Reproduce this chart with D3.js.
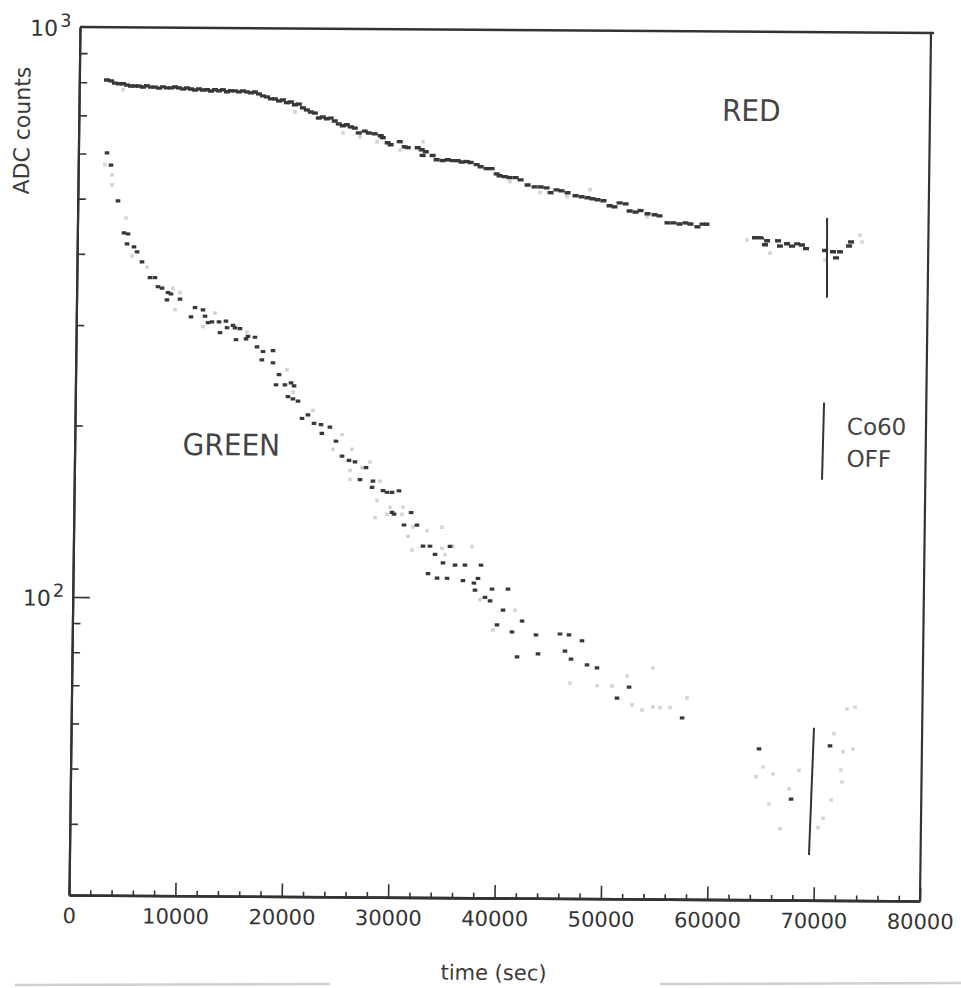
<!DOCTYPE html>
<html>
<head>
<meta charset="utf-8">
<script src="https://cdn.jsdelivr.net/npm/d3@7"></script>
<style>
  body { margin: 0; background: #ffffff; }
  svg { display: block; }
</style>
</head>
<body>
<svg id="chart" width="961" height="988"></svg>
<script>
// ---------------- data (time in s, ADC counts) ----------------
const redPoints = [
  [2600,808],[3000,805],[3350,798],[3730,796],[4110,796],[4490,792],[4860,789],[5240,789],[5620,789],[5990,786],
  [6370,790],[6750,786],[7120,786],[7500,783],[7870,787],[8250,784],[8630,784],[9000,787],[9380,784],[9760,781],
  [10130,784],[10510,781],[10880,778],[11260,781],[11640,778],[12010,779],[12390,775],[12760,779],[13140,776],[13520,779],
  [13890,773],[14270,776],[14640,776],[15020,773],[15400,776],[15770,773],[16150,770],[16520,773],[16900,767],[17280,761],
  [17660,758],[18030,752],[18410,752],[18790,746],[19160,749],[19540,741],[19910,743],[20290,735],[20670,737],[21050,726],
  [21420,720],[21800,714],[22180,711],[22560,697],[22930,700],[23310,695],[23680,697],[24060,689],[24440,681],[24820,676],
  [25190,679],[25570,673],[25950,670],[26330,657],[26890,662],[27270,657],[27830,655],[28400,650],[28590,645],[29060,632],
  [29340,627],[30190,635],[30670,622],[30950,620],[31890,620],[32270,615],[32650,610],[32360,601],[33300,601],[33680,591],
  [34250,589],[34720,591],[35190,589],[35660,589],[36040,586],[36510,587],[36880,585],[37450,580],[37830,575],[38390,571],
  [38860,571],[39340,559],[39620,555],[40090,553],[40560,551],[41130,551],[41600,546],[42260,535],[42920,531],[43490,531],
  [44050,529],[44430,519],[44990,525],[45460,523],[46030,519],[46780,513],[47350,511],[47910,509],[48380,507],[48860,505],
  [49420,503],[49990,493],[50460,491],[50930,499],[51500,497],[51880,483],[52440,481],[52910,484],[53570,478],[54230,476],
  [54700,474],[55460,461],[56020,461],[56590,459],[57150,461],[57620,459],[58280,454],[58750,459],[59120,459],
  [63700,435],[64270,435],[64840,430],[64650,423],[65870,430],[66060,421],[66720,425],[67190,421],[67660,425],[68130,423],
  [68510,417],[70300,414],[71050,412],[71710,412],[71340,402],[72550,422],[72730,429]
];
const redFaintPoints = [
  [4120,777],[20310,714],[24850,657],[26450,647],[28060,634],[30230,614],[32380,635],[40600,542],[43440,519],
  [45980,511],[48140,526],[53530,472],[62950,431],[73570,441],[73760,429],[65130,409],[70310,398]
];
const greenPoints = [
  [2690,602],[3080,573],[3780,496],[4380,436],[4760,434],[4680,417],[5340,412],[5630,404],[6110,388],[6880,364],
  [7350,364],[7640,351],[8020,349],[8590,343],[8870,341],[8500,333],[9730,334],[10780,311],[11150,323],[11900,320],
  [12100,312],[12390,304],[12760,305],[13420,305],[13530,292],[14070,306],[14180,298],[14740,301],[14930,298],[15400,297],
  [15040,284],[15980,285],[16160,288],[16820,287],[17020,276],[17500,262],[17590,271],[18530,272],[18540,259],[19120,247],
  [18850,237],[19690,237],[20260,239],[20550,236],[19990,226],[20460,224],[20940,222],[21890,210],[21340,207],[22470,203],
  [23130,202],[23970,200],[23220,195],[24560,189],[25140,178],[25800,175],[26370,174],[27410,170],[26860,162],[28080,161],
  [28000,157],[29040,155],[29410,154],[29880,154],[30540,155],[29910,142],[30100,141],[31700,142],[31050,135],[32270,135],
  [32860,124],[33520,124],[34000,120],[35400,124],[34760,116],[35890,115],[34220,109],[33370,111],[35160,109],[36660,108],
  [37690,107],[36830,115],[38340,115],[38070,109],[37800,104],[39400,104.5],[40900,104.5],[38750,101],[39230,99.6],[40460,96],
  [42260,91.9],[39910,90.4],[41330,87.9],[43590,86.9],[45840,87.3],[46690,87],[47920,85],[41830,79.5],[43800,80.5],[46330,81.5],
  [46910,78.9],[48420,77.1],[49360,76.2],[52400,70.6],[51280,67.5],[57420,62.4],[64690,55.2],[67760,45.1],[71360,56]
];
const greenFaintPoints = [
  [2500,574],[3190,551],[3200,529],[4550,463],[5160,397],[6580,380],[9050,349],[9720,343],[9270,320],[13030,316],
  [11920,299],[16060,293],[19870,252],[20460,230],[22360,214],[25120,194],[24290,183],[26070,183],[27780,174],[25910,168],
  [25920,162],[27030,170],[28740,161],[28480,149],[29710,145],[30940,145],[28320,139],[29440,141],[30850,141],[31900,134],
  [31440,129],[33220,132],[34630,134],[31830,122],[34650,123],[34940,120],[37470,124],[35680,124],[38280,100],[39540,88.6],
  [41590,96],[46840,71.6],[49390,70.9],[50800,70.9],[52190,73.8],[54620,76.3],[52700,65.7],[53650,64.4],[54670,65.2],[55340,65],
  [56270,65],[57860,67.7],[65090,51.3],[64440,49.3],[66040,49.9],[65700,44.2],[66760,40],[68470,50.7],[67560,47],[70330,40.2],
  [70790,41.8],[71520,45],[72420,50.8],[72530,48.4],[71720,58.8],[72590,54.7],[73520,55.3],[72910,65],[73660,65.5]
];
// vertical marker lines [t1, counts1, t2, counts2]
const markerLines = [
  [70450, 472, 70540, 342],   // on RED
  [70390, 224, 70290, 164],   // Co60 OFF legend
  [69830, 60.2, 69510, 36]    // on GREEN
];
// annotation texts [t, counts, text]
const annotations = [
  [60450, 697, "RED"],
  [10150, 178, "GREEN"]
];
const coLabel = [[72570, 197, "Co60"], [72570, 173, "OFF"]];

const xDomain = [0, 80000];
const yDomain = [30, 1000];
const xMajorTicks = [0, 10000, 20000, 30000, 40000, 50000, 60000, 70000, 80000];
const xMinorTicks = [2000,4000,6000,8000,12000,14000,16000,18000,22000,24000,26000,28000,
  32000,34000,36000,38000,42000,44000,46000,48000,52000,54000,56000,58000,62000,64000,66000,68000,
  72000,74000,76000,78000];
const yMajorTicks = [100];
const yMinorTicks = [40,50,60,70,80,90,200,300,400,500,600,700,800,900];
const yDecadeLabels = [[100, "2"], [1000, "3"]];

// ---------------- drawing ----------------
const W = 851, H = 868;
const ink = "#333333";
const font = "'DejaVu Sans', 'Liberation Sans', sans-serif";
const svg = d3.select("#chart");
svg.append("rect").attr("width", 961).attr("height", 988).attr("fill", "#fff");

// scan artefact at bottom edge
svg.append("path").attr("d", "M15,985L330,984M660,984L961,983")
  .attr("stroke", "#cfcfcf").attr("stroke-width", 2.5).attr("fill", "none");

// the scanned page is slightly skewed
const g = svg.append("g").attr("transform", "matrix(1,0.007,-0.0127,1,80,27)");

const x = d3.scaleLinear().domain(xDomain).range([0, W]);
const y = d3.scaleLog().domain(yDomain).range([H, 0]);

// faint points
g.append("g").selectAll("rect").data(redFaintPoints.concat(greenFaintPoints)).join("rect")
  .attr("x", d => x(d[0]) - 1.8).attr("y", d => y(d[1]) - 1.8)
  .attr("width", 3.6).attr("height", 3.6).attr("fill", "#d4d4d4");

// red series
g.append("g").selectAll("rect").data(redPoints).join("rect")
  .attr("x", d => x(d[0]) - 3).attr("y", d => y(d[1]) - 1.7)
  .attr("width", 6).attr("height", 3.4).attr("fill", "#383838");

// green series
g.append("g").selectAll("rect").data(greenPoints).join("rect")
  .attr("x", d => x(d[0]) - 2.3).attr("y", d => y(d[1]) - 1.6)
  .attr("width", 4.6).attr("height", 3.2).attr("fill", "#383838");

// marker lines
g.append("g").selectAll("line").data(markerLines).join("line")
  .attr("x1", d => x(d[0])).attr("y1", d => y(d[1]))
  .attr("x2", d => x(d[2])).attr("y2", d => y(d[3]))
  .attr("stroke", ink).attr("stroke-width", 2);

// axes
function styleAxis(sel, w) {
  sel.select(".domain").attr("stroke", ink).attr("stroke-width", w);
  sel.selectAll(".tick line").attr("stroke", ink).attr("stroke-width", 1.6);
  sel.selectAll(".tick text").attr("fill", ink).attr("font-family", font).attr("font-size", 21);
}
const xAxisMajor = g.append("g").attr("transform", `translate(0,${H})`)
  .call(d3.axisBottom(x).tickValues(xMajorTicks).tickSize(-13).tickSizeOuter(0)
    .tickFormat(d3.format("d")));
styleAxis(xAxisMajor, 2.6);
xAxisMajor.selectAll(".tick text").attr("y", 28).attr("dy", 0);

const xAxisMinor = g.append("g").attr("transform", `translate(0,${H})`)
  .call(d3.axisBottom(x).tickValues(xMinorTicks).tickSize(-5).tickSizeOuter(0).tickFormat(""));
styleAxis(xAxisMinor, 2.6);

const yAxisMajor = g.append("g")
  .call(d3.axisLeft(y).tickValues(yMajorTicks).tickSize(-17).tickSizeOuter(0).tickFormat(""));
styleAxis(yAxisMajor, 2.2);
const yAxisMinor = g.append("g")
  .call(d3.axisLeft(y).tickValues(yMinorTicks).tickSize(-8).tickSizeOuter(0).tickFormat(""));
styleAxis(yAxisMinor, 2.2);

// top and right frame
g.append("line").attr("x1", x(xDomain[0])).attr("x2", x(xDomain[1]) + 3)
  .attr("y1", y(yDomain[1])).attr("y2", y(yDomain[1]))
  .attr("stroke", ink).attr("stroke-width", 2.6);
g.append("line").attr("x1", x(xDomain[1])).attr("x2", x(xDomain[1]))
  .attr("y1", y(yDomain[1])).attr("y2", y(yDomain[0]))
  .attr("stroke", ink).attr("stroke-width", 2.2);

// decade labels 10^2, 10^3
yDecadeLabels.forEach(([v, e]) => {
  const t = g.append("text").attr("x", -50).attr("y", y(v) + 9)
    .attr("font-family", font).attr("font-size", 22).attr("fill", ink);
  t.append("tspan").text("10");
  t.append("tspan").attr("dx", 2).attr("dy", -9).attr("font-size", 18).text(e);
});

// axis titles
g.append("text").attr("transform", "translate(-49,104) rotate(-90)")
  .attr("text-anchor", "middle").attr("font-family", font).attr("font-size", 22)
  .attr("fill", "#3a3a3a").text("ADC counts");
g.append("text").attr("x", x(40000)).attr("y", H + 82)
  .attr("text-anchor", "middle").attr("font-family", font).attr("font-size", 21)
  .attr("fill", "#3a3a3a").text("time (sec)");

// annotations
g.append("g").selectAll("text").data(annotations).join("text")
  .attr("x", d => x(d[0])).attr("y", d => y(d[1]))
  .attr("font-family", font).attr("font-size", 30).attr("fill", "#444")
  .attr("textLength", d => d[2].length * 19.5).attr("lengthAdjust", "spacingAndGlyphs")
  .text(d => d[2]);
g.append("g").selectAll("text").data(coLabel).join("text")
  .attr("x", d => x(d[0])).attr("y", d => y(d[1]))
  .attr("font-family", font).attr("font-size", 23).attr("fill", "#444")
  .text(d => d[2]);
</script>
</body>
</html>
